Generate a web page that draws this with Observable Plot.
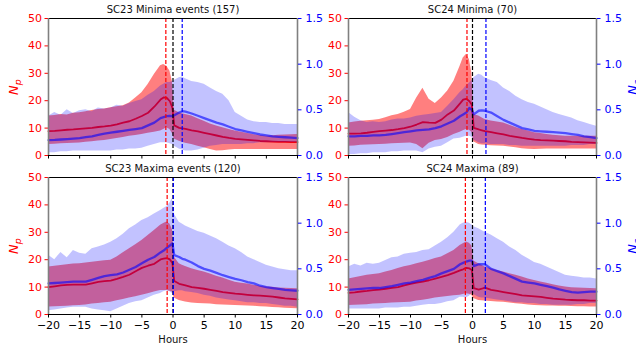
<!DOCTYPE html>
<html>
<head>
<meta charset="utf-8">
<script src="https://cdn.jsdelivr.net/npm/d3@7"></script>
<script src="https://cdn.jsdelivr.net/npm/@observablehq/plot@0.6"></script>
<style>
  html, body { margin: 0; padding: 0; background: white; }
  #chart { position: relative; width: 636px; height: 351px; overflow: hidden; }
  #chart svg { position: absolute; left: 0; top: 0; }
</style>
</head>
<body>
<div id="chart"></div>
<script>
// ---------- data ----------
const HOURS = [-20,-19,-18,-17,-16,-15,-14,-13,-12,-11,-10,-9,-8,-7,-6,-5,-4,-3,-2,-1.5,-1,-0.5,-0.1,
               0.2,1,1.5,2,3,4,5,6,7,8,9,10,11,12,13,14,15,16,17,18,19,20];

const TITLES = ["SC23 Minima events (157)", "SC24 Minima (70)", "SC23 Maxima events (120)", "SC24 Maxima (89)"];
const HOUR_TICKS = [-20,-15,-10,-5,0,5,10,15,20];
const NP_TICKS = [0,10,20,30,40,50];
const NA_TICKS = [0,0.5,1.0,1.5];
const RED_DASH = [-1.15, -0.89, -0.94, -1.15];
const BLACK_DASH = [0, 0, 0, 0];
const BLUE_DASH = [1.48, 2.17, 0.06, 2.07];

// SC23 Minima
const sc23min_np    = [8.9,9.0,9.2,9.4,9.5,9.7,9.9,10.1,10.4,10.6,10.9,11.4,12.0,12.5,13.4,14.4,15.6,17.8,20.4,21.2,21.0,19.8,17.5,
                       11.0,10.1,9.9,9.7,9.2,8.8,8.3,7.8,7.3,6.8,6.4,6.1,5.9,5.7,5.5,5.3,5.2,5.1,5.0,5.0,4.9,4.9];
const sc23min_np_hi = [14.4,14.6,15.0,14.8,15.4,15.6,16.0,16.4,16.8,17.0,17.4,17.8,18.2,19.2,21.0,22.9,25.9,29.6,32.8,33.2,32.6,30.8,27.0,
                       16.5,15.6,15.2,15.0,14.4,13.4,12.5,11.5,10.8,10.1,9.5,8.9,8.5,8.0,7.6,7.3,7.0,7.2,7.4,7.5,7.6,7.7];
const sc23min_np_lo = [4.0,4.1,4.3,4.4,4.5,4.6,4.8,5.0,5.3,5.5,5.8,6.2,6.6,7.0,7.3,7.7,8.1,8.5,8.9,9.5,10.1,9.5,8.0,
                       6.0,5.2,4.8,4.5,4.0,3.4,2.8,2.2,1.6,1.7,2.0,2.2,2.2,2.2,2.2,2.2,2.2,2.2,2.2,2.2,2.2,2.2];
const sc23min_na    = [0.168,0.17,0.175,0.18,0.185,0.19,0.2,0.21,0.225,0.24,0.25,0.26,0.27,0.28,0.29,0.3,0.33,0.36,0.41,0.42,0.43,0.435,0.43,
                       0.44,0.47,0.485,0.48,0.46,0.435,0.41,0.385,0.36,0.34,0.315,0.29,0.275,0.26,0.245,0.23,0.22,0.21,0.205,0.2,0.195,0.19];
const sc23min_na_hi = [0.43,0.47,0.44,0.5,0.46,0.49,0.5,0.48,0.52,0.51,0.52,0.55,0.54,0.57,0.59,0.61,0.66,0.7,0.76,0.78,0.8,0.8,0.81,
                       0.82,0.85,0.86,0.84,0.81,0.8,0.78,0.74,0.7,0.67,0.6,0.47,0.43,0.39,0.37,0.36,0.36,0.35,0.35,0.34,0.34,0.34];
const sc23min_na_lo = [0.03,0.03,0.04,0.04,0.05,0.05,0.05,0.05,0.05,0.05,0.05,0.06,0.06,0.07,0.07,0.08,0.1,0.12,0.14,0.14,0.14,0.13,0.12,
                       0.1,0.07,0.06,0.05,0.05,0.06,0.08,0.1,0.11,0.12,0.12,0.12,0.12,0.13,0.13,0.14,0.14,0.14,0.14,0.14,0.14,0.14];

// SC24 Minima
const sc24min_np    = [8.0,8.0,8.1,8.3,8.6,8.9,9.1,9.3,9.6,10.0,10.5,11.3,12.2,12.0,11.9,13.1,15.0,16.4,19.0,20.4,20.7,19.8,18.5,
                       10.1,9.5,9.2,8.9,8.5,8.1,7.7,7.2,6.8,6.4,6.1,5.8,5.6,5.5,5.4,5.3,5.2,5.0,4.9,4.8,4.7,4.6];
const sc24min_np_hi = [11.9,12.2,12.5,12.7,12.9,13.1,13.8,14.5,15.0,15.8,16.8,21.0,24.5,20.5,19.0,21.0,23.5,27.1,32.6,35.6,36.9,35.0,30.0,
                       15.0,14.4,13.8,13.1,12.6,12.2,11.9,11.0,10.2,9.5,8.9,8.3,8.0,7.7,7.4,7.2,7.0,7.0,7.0,7.0,7.0,7.0];
const sc24min_np_lo = [3.4,3.5,3.7,3.8,3.9,4.0,4.1,4.3,4.4,4.5,4.6,4.0,2.5,4.5,5.5,5.8,6.6,7.7,8.5,9.0,9.5,9.2,8.5,
                       5.0,4.0,3.8,3.7,3.6,3.5,3.4,3.1,2.8,2.5,2.3,2.2,2.3,2.4,2.4,2.4,2.4,2.4,2.4,2.4,2.4,2.4];
const sc24min_na    = [0.21,0.21,0.215,0.215,0.22,0.22,0.225,0.235,0.245,0.255,0.265,0.275,0.28,0.285,0.3,0.32,0.35,0.38,0.43,0.45,0.47,0.52,0.5,
                       0.45,0.49,0.495,0.49,0.47,0.43,0.39,0.36,0.33,0.3,0.285,0.27,0.265,0.26,0.255,0.25,0.245,0.235,0.225,0.21,0.2,0.19];
const sc24min_na_hi = [0.47,0.42,0.38,0.36,0.37,0.36,0.37,0.39,0.4,0.4,0.41,0.43,0.44,0.45,0.46,0.47,0.54,0.61,0.69,0.72,0.76,0.79,0.82,
                       0.85,0.89,0.88,0.85,0.82,0.8,0.74,0.7,0.65,0.61,0.58,0.56,0.53,0.5,0.47,0.45,0.43,0.41,0.38,0.36,0.34,0.32];
const sc24min_na_lo = [0.01,0.01,0.02,0.02,0.03,0.03,0.03,0.04,0.04,0.05,0.05,0.05,0.03,0.07,0.09,0.1,0.14,0.18,0.19,0.2,0.21,0.21,0.2,
                       0.17,0.14,0.13,0.13,0.12,0.12,0.12,0.11,0.11,0.1,0.1,0.1,0.1,0.1,0.1,0.1,0.1,0.11,0.11,0.11,0.12,0.12];

// SC23 Maxima
const sc23max_np    = [10.0,10.3,10.6,10.8,10.9,10.9,10.9,11.4,11.9,12.2,12.4,13.0,13.7,14.5,15.8,17.0,17.8,18.5,20.1,20.4,20.6,20.1,18.8,
                       12.2,11.2,10.9,10.6,10.0,9.7,9.4,9.0,8.6,8.2,7.9,7.6,7.4,7.2,7.0,6.9,6.7,6.5,6.2,5.9,5.7,5.5];
const sc23max_np_hi = [17.3,17.6,17.9,18.2,18.4,18.5,18.8,19.1,19.3,19.6,19.8,21.0,22.5,24.0,25.5,27.0,28.8,30.7,32.6,33.2,33.8,33.0,31.0,
                       21.0,18.5,18.0,17.5,16.7,16.1,15.5,14.8,14.0,13.3,12.5,11.8,11.4,11.1,10.7,10.3,10.0,9.9,9.7,9.6,9.5,9.4];
const sc23max_np_lo = [2.7,2.8,2.9,3.0,3.2,3.3,3.5,3.8,4.0,4.3,4.5,5.0,5.5,6.0,6.5,7.0,7.6,8.2,8.8,8.8,8.8,8.5,8.2,
                       6.0,5.1,4.8,4.6,4.2,4.0,3.9,3.8,3.6,3.5,3.4,3.3,3.2,3.1,3.0,2.8,2.7,2.6,2.5,2.3,2.2,2.1];
const sc23max_na    = [0.34,0.345,0.35,0.355,0.36,0.36,0.36,0.38,0.4,0.42,0.43,0.44,0.46,0.49,0.52,0.56,0.6,0.63,0.68,0.7,0.73,0.755,0.78,
                       0.65,0.63,0.61,0.6,0.57,0.53,0.5,0.48,0.455,0.43,0.41,0.39,0.375,0.355,0.34,0.315,0.3,0.29,0.28,0.27,0.265,0.26];
const sc23max_na_hi = [0.65,0.6,0.68,0.62,0.7,0.67,0.66,0.72,0.74,0.76,0.79,0.83,0.88,0.94,0.98,1.03,1.06,1.1,1.14,1.16,1.18,1.22,1.27,
                       1.1,1.01,0.99,0.97,0.94,0.91,0.89,0.86,0.83,0.79,0.75,0.72,0.68,0.63,0.6,0.57,0.54,0.52,0.5,0.49,0.48,0.48];
const sc23max_na_lo = [0.04,0.05,0.06,0.07,0.08,0.08,0.08,0.06,0.05,0.04,0.03,0.06,0.09,0.12,0.14,0.15,0.18,0.21,0.23,0.25,0.26,0.25,0.23,
                       0.25,0.26,0.26,0.25,0.24,0.23,0.21,0.2,0.18,0.17,0.16,0.15,0.14,0.13,0.13,0.12,0.12,0.11,0.1,0.09,0.09,0.08];

// SC24 Maxima
const sc24max_np    = [7.9,8.1,8.4,8.6,8.9,9.1,9.4,9.7,10.0,10.6,11.2,11.6,12.0,12.5,13.1,13.7,14.4,15.2,16.1,16.5,17.0,16.8,16.2,
                       9.6,9.1,9.4,9.8,9.0,8.6,8.2,7.8,7.4,7.0,6.8,6.6,6.4,6.1,5.8,5.6,5.4,5.3,5.2,5.2,5.1,5.1];
const sc24max_np_hi = [13.0,13.4,13.9,14.3,14.6,14.9,15.5,16.1,16.8,17.4,17.9,18.5,19.1,19.7,20.4,21.0,22.2,23.4,25.2,25.8,26.5,26.0,25.0,
                       19.5,18.5,18.0,17.3,16.7,16.1,15.5,14.9,14.3,13.7,13.0,12.4,11.9,11.4,10.9,10.4,10.0,9.8,9.7,9.6,9.5,9.4];
const sc24max_np_lo = [3.3,3.4,3.5,3.6,3.8,3.9,4.0,4.2,4.3,4.4,4.5,4.9,5.2,5.6,6.0,6.3,6.6,6.8,7.0,7.3,7.6,7.4,7.0,
                       5.8,5.1,5.0,4.9,4.7,4.6,4.5,4.2,3.9,3.7,3.5,3.3,3.2,3.1,3.1,3.0,3.0,2.9,2.8,2.8,2.7,2.7];
const sc24max_na    = [0.27,0.275,0.28,0.285,0.29,0.29,0.3,0.31,0.325,0.34,0.35,0.365,0.38,0.4,0.42,0.45,0.475,0.5,0.55,0.565,0.58,0.59,0.59,
                       0.53,0.55,0.55,0.55,0.5,0.475,0.45,0.42,0.39,0.36,0.35,0.34,0.325,0.31,0.295,0.275,0.26,0.245,0.24,0.245,0.25,0.25];
const sc24max_na_hi = [0.52,0.55,0.53,0.56,0.55,0.56,0.59,0.62,0.63,0.66,0.67,0.68,0.7,0.71,0.75,0.79,0.84,0.9,0.98,1.0,1.01,1.0,0.98,
                       0.96,0.94,0.92,0.9,0.87,0.83,0.79,0.74,0.7,0.65,0.61,0.57,0.55,0.52,0.49,0.46,0.43,0.42,0.41,0.4,0.4,0.39];
const sc24max_na_lo = [0.06,0.06,0.06,0.06,0.06,0.06,0.07,0.07,0.07,0.08,0.08,0.09,0.1,0.11,0.11,0.12,0.14,0.15,0.19,0.19,0.18,0.2,0.23,
                       0.22,0.19,0.18,0.18,0.17,0.16,0.15,0.14,0.13,0.13,0.12,0.12,0.11,0.11,0.1,0.1,0.1,0.1,0.11,0.11,0.12,0.12];

// ---------- layout ----------
const W = 636, H = 351;
const FONT = "DejaVu Sans, sans-serif";

const PANELS = [
  {title: TITLES[0], col: 0, row: 0, np: sc23min_np, npLo: sc23min_np_lo, npHi: sc23min_np_hi, na: sc23min_na, naLo: sc23min_na_lo, naHi: sc23min_na_hi, red: RED_DASH[0], black: BLACK_DASH[0], blue: BLUE_DASH[0]},
  {title: TITLES[1], col: 1, row: 0, np: sc24min_np, npLo: sc24min_np_lo, npHi: sc24min_np_hi, na: sc24min_na, naLo: sc24min_na_lo, naHi: sc24min_na_hi, red: RED_DASH[1], black: BLACK_DASH[1], blue: BLUE_DASH[1]},
  {title: TITLES[2], col: 0, row: 1, np: sc23max_np, npLo: sc23max_np_lo, npHi: sc23max_np_hi, na: sc23max_na, naLo: sc23max_na_lo, naHi: sc23max_na_hi, red: RED_DASH[2], black: BLACK_DASH[2], blue: BLUE_DASH[2]},
  {title: TITLES[3], col: 1, row: 1, np: sc24max_np, npLo: sc24max_np_lo, npHi: sc24max_np_hi, na: sc24max_na, naLo: sc24max_na_lo, naHi: sc24max_na_hi, red: RED_DASH[3], black: BLACK_DASH[3], blue: BLUE_DASH[3]}
];

const chart = document.getElementById("chart");
const dash = {strokeDasharray: "4,2", strokeWidth: 1.2};

function subscriptLabel(svg, raw, main, sub) {
  d3.select(svg).selectAll("text").filter(function () { return this.textContent === raw; }).each(function () {
    const t = d3.select(this);
    t.text(null);
    t.append("tspan").attr("font-style", "italic").text(main);
    t.append("tspan").attr("font-style", "italic").attr("font-size", "9.5px").attr("dy", "0.35em").text(sub);
  });
}

for (const p of PANELS) {
  const L = p.col ? 348 : 48, R = p.col ? 596 : 297;
  const T = p.row ? 177 : 18, B = p.row ? 314 : 155;
  const base = {
    width: W, height: H,
    marginLeft: L, marginRight: W - R, marginTop: T, marginBottom: H - B,
    style: {background: "transparent", fontFamily: FONT, fontSize: "11px", overflow: "visible"}
  };
  const npRows = HOURS.map((t, i) => ({t, v: p.np[i], lo: p.npLo[i], hi: p.npHi[i]}));
  const naRows = HOURS.map((t, i) => ({t, v: p.na[i], lo: p.naLo[i], hi: p.naHi[i]}));

  const npPlot = Plot.plot({
    ...base,
    x: {domain: [-20, 20]},
    y: {domain: [0, 50]},
    marks: [
      Plot.areaY(npRows, {x: "t", y1: "lo", y2: "hi", fill: "red", fillOpacity: 0.5}),
      Plot.lineY(npRows, {x: "t", y: "v", stroke: "red", strokeWidth: 1.8}),
      Plot.axisY({anchor: "left", ticks: NP_TICKS, tickSize: 3.5, tickPadding: 3, color: "red", label: null}),
      Plot.axisX({anchor: "bottom", ticks: HOUR_TICKS, tickSize: 3.5, tickPadding: 3, color: "black",
                  tickFormat: p.row ? d3.format("d") : () => "", label: null}),
      Plot.text([p.title], {frameAnchor: "top", dy: -9, lineAnchor: "middle", textAnchor: "middle", fill: "#111", fontSize: 10, fontWeight: "normal"}),
      p.col === 0 ? Plot.text(["N_p"], {frameAnchor: "left", dx: -35, rotate: -90, textAnchor: "middle", lineAnchor: "middle", fill: "red", fontSize: 13}) : null,
      p.row === 1 ? Plot.text(["Hours"], {frameAnchor: "bottom", dy: 25.5, lineAnchor: "middle", textAnchor: "middle", fill: "#111", fontSize: 10}) : null
    ].filter(Boolean)
  });

  const naPlot = Plot.plot({
    ...base,
    x: {domain: [-20, 20], axis: null},
    y: {domain: [0, 1.5]},
    marks: [
      Plot.areaY(naRows, {x: "t", y1: "lo", y2: "hi", fill: "blue", fillOpacity: 0.24}),
      Plot.lineY(naRows, {x: "t", y: "v", stroke: "blue", strokeOpacity: 0.6, strokeWidth: 2.3}),
      Plot.ruleX([p.red], {stroke: "red", ...dash}),
      Plot.ruleX([p.black], {stroke: "black", ...dash}),
      Plot.ruleX([p.blue], {stroke: "blue", ...dash}),
      Plot.ruleY([0, 1.5], {stroke: "black", strokeWidth: 1}),
      Plot.ruleX([-20, 20], {stroke: "#808080", strokeWidth: 1.6}),
      Plot.axisY({anchor: "right", ticks: NA_TICKS, tickFormat: d3.format(".1f"), tickSize: 3.5, tickPadding: 4.5, color: "blue", label: null}),
      p.col === 1 ? Plot.text(["N_a"], {frameAnchor: "right", dx: 36, rotate: -90, textAnchor: "middle", lineAnchor: "middle", fill: "blue", fontSize: 13}) : null
    ].filter(Boolean)
  });

  subscriptLabel(npPlot, "N_p", "N", "p");
  subscriptLabel(naPlot, "N_a", "N", "a");
  chart.appendChild(npPlot);
  chart.appendChild(naPlot);
}
</script>
</body>
</html>
